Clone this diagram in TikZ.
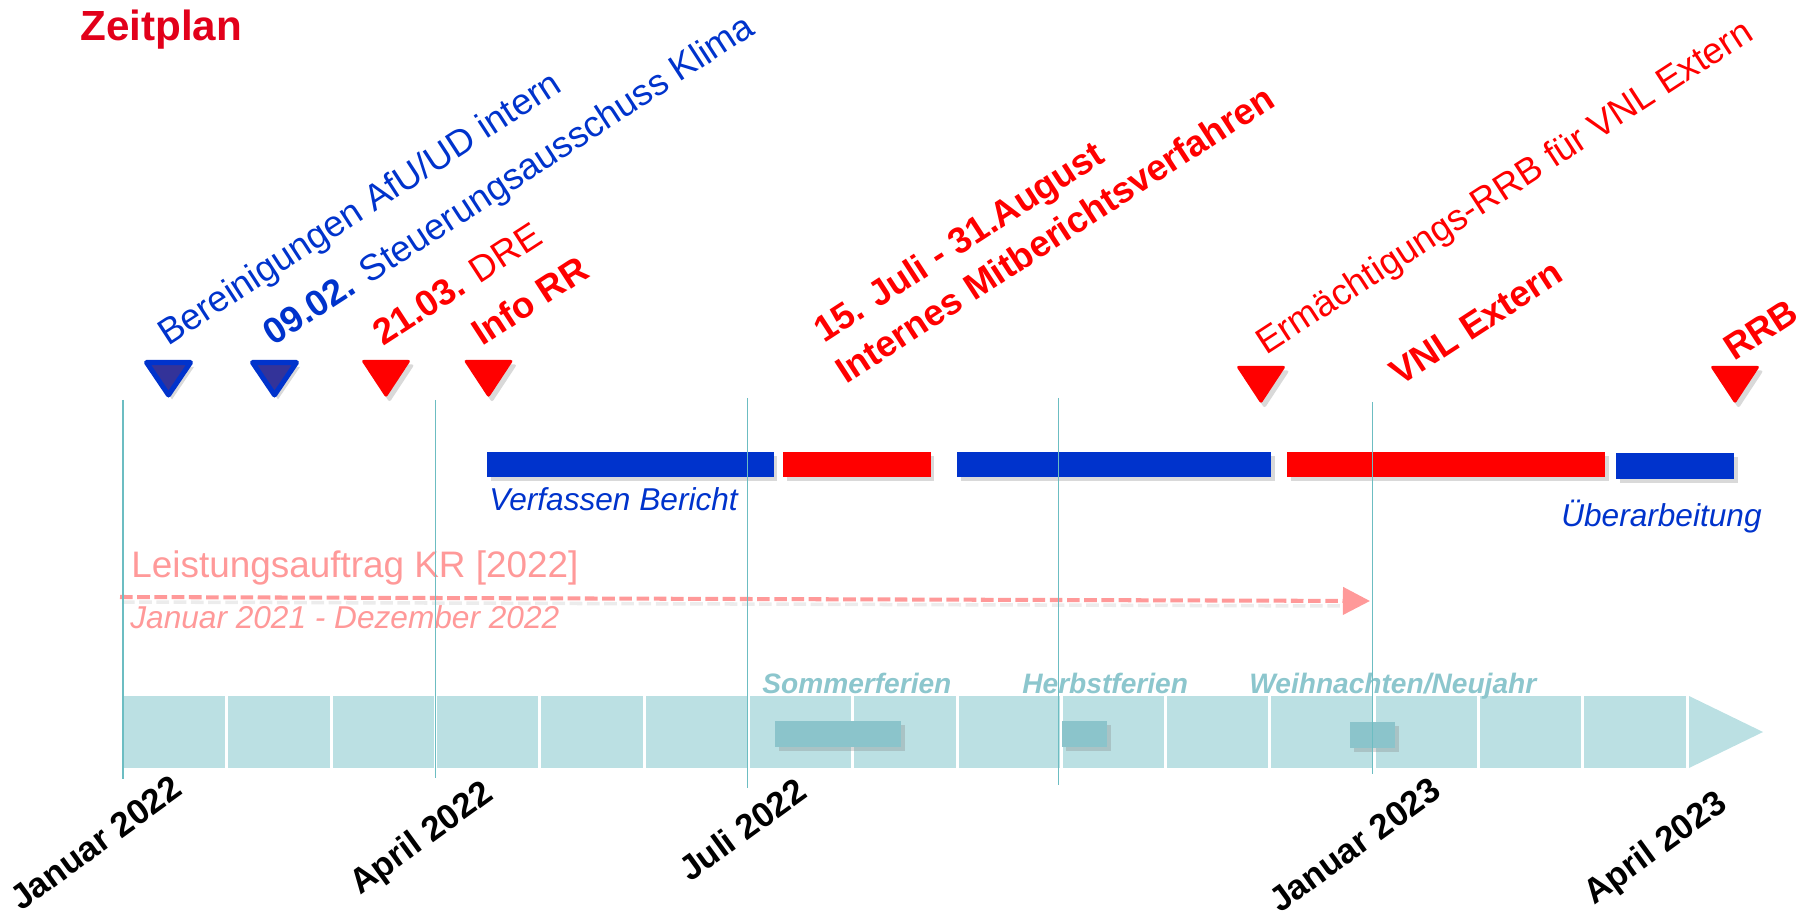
\documentclass[tikz,border=0pt]{standalone}
\usepackage{fontspec}
\setmainfont{Liberation Sans}
\usetikzlibrary{arrows.meta,shadows}

\definecolor{zpred}{HTML}{E2001A}
\definecolor{msred}{HTML}{FF0000}
\definecolor{msblue}{HTML}{0033CC}
\definecolor{msdark}{HTML}{333399}
\definecolor{lapink}{HTML}{FF9999}
\definecolor{band}{HTML}{BBE0E3}
\definecolor{holbox}{HTML}{8BC4CB}
\definecolor{holtext}{HTML}{8CC6CD}
\definecolor{vline}{HTML}{6CBDC2}

\begin{document}
\begin{tikzpicture}[
    % GLOBAL CFG
    x=0.02cm, y=-0.02cm,
    % Styles
    softshadow/.style={% grey shadow lower right
        drop shadow={shadow xshift=2pt, shadow yshift=-2.5pt, opacity=.3},
        },
    title/.style={% For the heading
        anchor=base west,
        inner sep=0pt,
        text=zpred,
        font=\fontsize{24}{28}\selectfont\bfseries,
        },
    toplabel/.style={% rotated labels above the markers
        anchor=base west,
        rotate=33,
        inner sep=0pt,
        font=\fontsize{20.8}{25}\selectfont,
        },
    topbold/.style={% same, bold
        toplabel,
        font=\fontsize{20.8}{25}\selectfont\bfseries,
        },
    monthlabel/.style={% rotated month names under the band
        anchor=base west,
        rotate=36,
        inner sep=0pt,
        font=\fontsize{19.8}{23}\selectfont\bfseries,
        },
    barlabel/.style={% italic text under the bars
        anchor=base west,
        inner sep=0pt,
        text=msblue,
        font=\fontsize{18}{21}\selectfont\itshape,
        },
    lalabel/.style={% pink text of the Leistungsauftrag
        anchor=base west,
        inner sep=0pt,
        text=lapink,
        font=\fontsize{21}{24}\selectfont,
        },
    hollabel/.style={% holidays above the band
        anchor=base west,
        inner sep=0pt,
        text=holtext,
        font=\fontsize{16}{19}\selectfont\bfseries\itshape,
        },
    bluemile/.style={% blue marker
        fill=msdark,
        draw=msblue,
        line width=2.85pt,
        line join=round,
        softshadow,
        },
    redmile/.style={% red marker
        fill=msred,
        rounded corners=1.5pt,
        softshadow,
        },
    bluebar/.style={fill=msblue, softshadow},
    redbar/.style={fill=msred, softshadow},
    holiday/.style={fill=holbox, softshadow},
    monthline/.style={draw=vline, line width=1.1pt},
    laarrow/.style={% dashed arrow
        draw=lapink,
        line width=2.3pt,
        dash pattern=on 7.2pt off 2.6pt,
        -{Triangle[length=15.4pt,width=15.4pt]},
        },
    lashadow/.style={% its shadow
        draw=black!30,
        opacity=.25,
        line width=2pt,
        dash pattern=on 7.2pt off 2.6pt,
        },
    ]

    \useasboundingbox (0,0) rectangle (1797,918);

    % Heading
    \node[title] (zeit) at (80,41) {Zeitplan};

    % Draw the band, one box per month
    \foreach \m in {0,...,14}
        \fill[band] ({122.6+104.3*\m+1.5},696) rectangle ({122.6+104.3*(\m+1)-1.5},768);
    \fill[band] (1689,696) -- (1763,732) -- (1689,768) -- cycle;

    % Holidays
    \fill[holiday] (775,721) rectangle (901,747);
    \fill[holiday] (1062,721) rectangle (1107,747);
    \fill[holiday] (1350,722) rectangle (1395,748);
    \node[hollabel] (somm) at (762,693) {Sommerferien};
    \node[hollabel] (herb) at (1022,693) {Herbstferien};
    \node[hollabel] (weih) at (1249,693) {Weihnachten/Neujahr};

    % Draw the bars
    \fill[bluebar] (487,451.5) rectangle (773.5,477);
    \fill[redbar] (783,451.5) rectangle (930.5,477);
    \fill[bluebar] (957,451.5) rectangle (1271,477);
    \fill[redbar] (1287,451.5) rectangle (1605,477);
    \fill[bluebar] (1616,453) rectangle (1734,479);
    \node[barlabel] (verf) at (489,510) {Verfassen Bericht};
    \node[barlabel, anchor=base east] (ueber) at (1762,526) {Überarbeitung};

    % Leistungsauftrag
    \node[lalabel] (leist) at (131,577) {Leistungsauftrag KR [2022]};
    \coordinate (la0) at (120,597);
    \coordinate (la1) at (1370,601);
    \draw[lashadow] ([shift={(2,5)}]la0) -- ([shift={(-26,5)}]la1);
    \draw[laarrow] (la0) -- (la1);
    \node[lalabel, font=\fontsize{18}{21}\selectfont\itshape] (ladate) at (130,628) {Januar 2021 - Dezember 2022};

    % Markers, named by their top centre
    \coordinate (m1) at (168.5,360);
    \coordinate (m2) at (274.5,360);
    \coordinate (m3) at (386,360);
    \coordinate (m4) at (488.5,360);
    \coordinate (m5) at (1261,366);
    \coordinate (m6) at (1735,366);
    \filldraw[bluemile] (m1)++(-22,2.5) -- ++(44,0) -- ++(-22,32.5) -- cycle;
    \filldraw[bluemile] (m2)++(-22,2.5) -- ++(44,0) -- ++(-22,32.5) -- cycle;
    \fill[redmile] (m3)++(-25,0) -- ++(50,0) -- ++(-25,38) -- cycle;
    \fill[redmile] (m4)++(-25,0) -- ++(50,0) -- ++(-25,38) -- cycle;
    \fill[redmile] (m5)++(-25,0) -- ++(50,0) -- ++(-25,38) -- cycle;
    \fill[redmile] (m6)++(-25,0) -- ++(50,0) -- ++(-25,38) -- cycle;

    % Labels of the markers
    \node[toplabel, text=msblue] (ber) at (168,347) {Bereinigungen AfU/UD intern};
    \node[toplabel, text=msblue] (steu) at (273,347) {\textbf{09.02.} Steuerungsausschuss Klima};
    \node[toplabel, text=msred] (dre) at (383,347) {\textbf{21.03.} DRE};
    \node[topbold, text=msred] (info) at (482,347) {Info RR};
    \node[topbold, text=msred] (juli) at (824,344) {15. Juli - 31.August};
    \node[topbold, text=msred] (mitb) at (846,385) {Internes Mitberichtsverfahren};
    \node[toplabel, text=msred] (erm) at (1266,356) {Ermächtigungs-RRB für VNL Extern};
    \node[topbold, text=msred] (vnl) at (1400,387) {VNL Extern};
    \node[topbold, text=msred] (rrb) at (1734,362) {RRB};

    % Month lines on top
    \draw[monthline] (122.6,400) -- (122.6,779);
    \draw[monthline] (435.5,400) -- (435.5,778);
    \draw[monthline] (747.5,398) -- (747.5,788);
    \draw[monthline] (1058.5,398) -- (1058.5,785);
    \draw[monthline] (1372.5,402) -- (1372.5,774);

    % Month names
    \node[monthlabel] (jan22) at (21,912) {Januar 2022};
    \node[monthlabel] (apr22) at (360,896) {April 2022};
    \node[monthlabel] (jul22) at (690,883) {Juli 2022};
    \node[monthlabel] (jan23) at (1280,914) {Januar 2023};
    \node[monthlabel] (apr23) at (1594,906) {April 2023};

\end{tikzpicture}
\end{document}
